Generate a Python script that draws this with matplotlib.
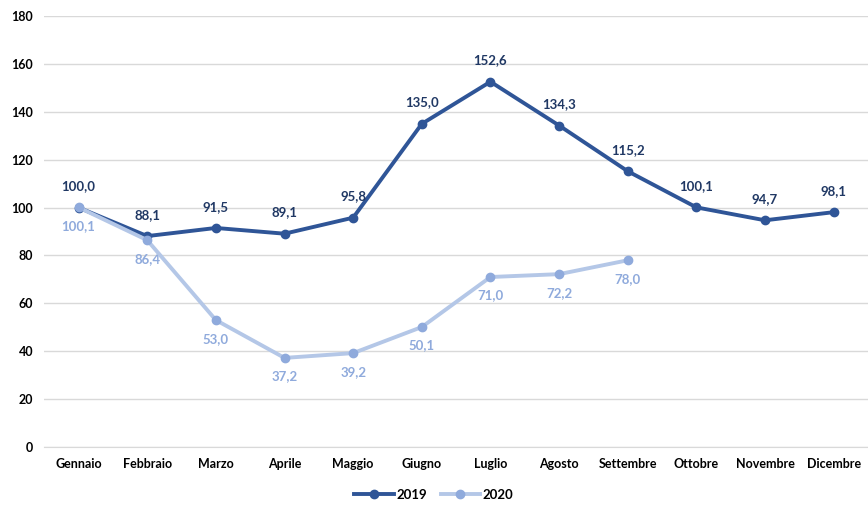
import matplotlib.pyplot as plt

# dati
mesi = ['Gennaio', 'Febbraio', 'Marzo', 'Aprile', 'Maggio', 'Giugno', 'Luglio',
        'Agosto', 'Settembre', 'Ottobre', 'Novembre', 'Dicembre']
v2019 = [100.0, 88.1, 91.5, 89.1, 95.8, 135.0, 152.6, 134.3, 115.2, 100.1, 94.7, 98.1]
v2020 = [100.1, 86.4, 53.0, 37.2, 39.2, 50.1, 71.0, 72.2, 78.0]

plt.rcParams['font.family'] = ['Lato', 'DejaVu Sans']

c19_line = '#2F5597'
c19_mark = '#2F5597'
c19_text = '#203864'
c20_line = '#B4C7E7'
c20_mark = '#8FAADC'
c20_text = '#8FAADC'

fig = plt.figure(figsize=(8.68, 5.05), dpi=100)
ax = fig.add_axes([0.051, 0.115, 0.949, 0.853])

x19 = list(range(len(v2019)))
x20 = list(range(len(v2020)))

ax.plot(x19, v2019, color=c19_line, lw=2.8, marker='o', ms=6,
        mfc=c19_mark, mec=c19_mark, label='2019', zorder=3)
ax.plot(x20, v2020, color=c20_line, lw=2.8, marker='o', ms=6,
        mfc=c20_mark, mec=c20_mark, label='2020', zorder=4)

for x, v in zip(x19, v2019):
    ax.annotate(f'{v:.1f}'.replace('.', ','), (x, v), xytext=(0, 11),
                textcoords='offset points', ha='center', va='bottom',
                color=c19_text, fontsize=9.5, fontweight='bold')
for x, v in zip(x20, v2020):
    ax.annotate(f'{v:.1f}'.replace('.', ','), (x, v), xytext=(0, -9),
                textcoords='offset points', ha='center', va='top',
                color=c20_text, fontsize=9.5, fontweight='bold')

ax.set_ylim(0, 180)
ax.set_yticks(range(0, 181, 20))
ax.set_xlim(-0.5, len(mesi) - 0.5)
ax.set_xticks(x19)
ax.set_xticklabels(mesi)
ax.tick_params(length=0, labelsize=9, pad=8)
for l in ax.get_xticklabels() + ax.get_yticklabels():
    l.set_fontweight('bold')
ax.grid(axis='y', color='#D9D9D9', lw=1)
ax.set_axisbelow(True)
for s in ['top', 'right', 'left']:
    ax.spines[s].set_visible(False)
ax.spines['bottom'].set_color('#D9D9D9')

leg = fig.legend(loc='lower center', bbox_to_anchor=(0.5, -0.015), ncol=2, frameon=False,
                 prop={'weight': 'bold', 'size': 9.5}, handlelength=3.0, columnspacing=1.0,
                 handletextpad=0.2)

fig.savefig('out.png', dpi=100)
